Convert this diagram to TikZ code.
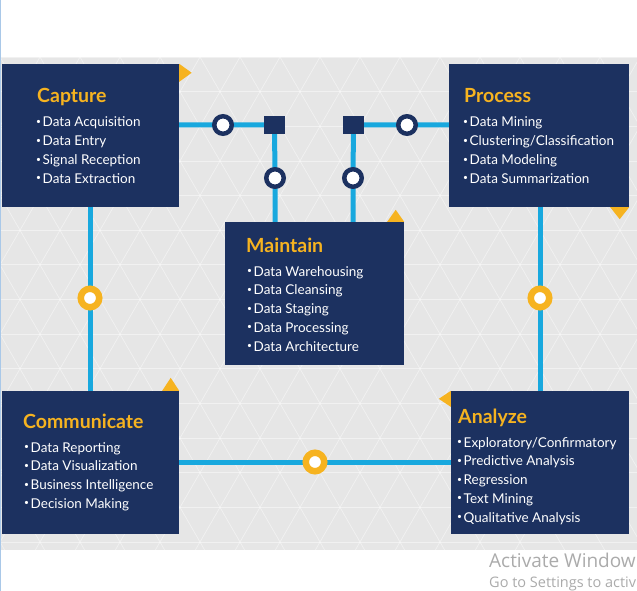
\documentclass[tikz,border=0pt]{standalone}
\usepackage{fontspec}
\setmainfont{Lato}
\newfontfamily\wmfont{Open Sans}
\definecolor{navy}{HTML}{1C3160}
\definecolor{gold}{HTML}{F6B320}
\definecolor{lineblue}{HTML}{18A8DE}
\definecolor{bggrey}{HTML}{E6E6E6}
\definecolor{wmgrey}{HTML}{ABABAB}
\definecolor{edgeblue}{HTML}{A9C8E8}
\pgfdeclarelayer{bg}
\pgfdeclarelayer{background}
\pgfsetlayers{bg,background,main}
\newcommand\bul{\makebox[6.5pt][l]{\raisebox{2.4pt}{\fontsize{8.5}{8.5}\selectfont •}}}
\tikzset{
  box/.style={rectangle, fill=navy, inner sep=0pt, minimum height=143pt},
  wire/.style={draw=lineblue, line width=5pt},
  navyring/.style={circle, draw=navy, line width=4.5pt, fill=white, minimum size=17.5pt, inner sep=0pt},
  goldring/.style={circle, draw=gold, line width=6.5pt, fill=white, minimum size=18.5pt, inner sep=0pt},
  joint/.style={rectangle, fill=navy, minimum width=21pt, minimum height=18pt, inner sep=0pt},
  title/.style={anchor=base west, inner sep=0pt, text=gold, font=\fontsize{19.5}{19.5}\selectfont\bfseries},
  item/.style={anchor=base west, inner sep=0pt, text=white, font=\fontsize{13.5}{13.5}\selectfont},
  pat/.style={draw=white, line width=0.7pt, opacity=0.45},
  tab/.style={fill=gold},
  wm/.style={anchor=base west, inner sep=0pt, text=wmgrey}
}
\begin{document}
\begin{tikzpicture}[x=1pt,y=-1pt]
\useasboundingbox (0,0) rectangle (637,591);
\begin{pgfonlayer}{bg}
  \fill[white] (0,0) rectangle (637,591);
  \fill[bggrey] (0,57) rectangle (637,550);
  \begin{scope}
    \clip (0,57) rectangle (637,550);
    \foreach \k in {-10,...,20} {
      \draw[pat] (\k*40,57) -- ++(60:700);
      \draw[pat] (\k*40,57) -- ++(120:700);
    }
    \foreach \k in {0,...,14} \draw[pat] (0,57+\k*34.64) -- (637,57+\k*34.64);
  \end{scope}
  \draw[edgeblue, line width=1pt] (0.5,0) -- (0.5,591);
\end{pgfonlayer}

% boxes
\node[box, minimum width=177pt] (cap) at (90.5,135.5) {};
\node[box, minimum width=180pt] (pro) at (539,135.5) {};
\node[box, minimum width=179pt] (mai) at (314.5,293.5) {};
\node[box, minimum width=177pt] (com) at (90.5,462.5) {};
\node[box, minimum width=178pt] (ana) at (540,462.5) {};

% tabs
\fill[tab] (cap.north east) -- ++(0,18) -- ++(12.5,-9) -- cycle;
\fill[tab] (pro.south east) -- ++(-19,0) -- ++(9.5,12) -- cycle;
\fill[tab] (mai.north east) -- ++(-17,0) -- ++(8.5,-12) -- cycle;
\fill[tab] (com.north east) -- ++(-17,0) -- ++(8.5,-13) -- cycle;
\fill[tab] (ana.north west) -- ++(0,16) -- ++(-12,-8) -- cycle;

% joints and rings
\node[joint] (s1) at (274.5,125) {};
\node[joint] (s2) at (353.5,125) {};
\node[navyring] (c1) at (223,125) {};
\node[navyring] (c2) at (275,178) {};
\node[navyring] (c3) at (407,125) {};
\node[navyring] (c4) at (353,178) {};
\node[goldring] (y1) at (90,298) {};
\node[goldring] (y2) at (540,298) {};
\node[goldring] (y3) at (315,462) {};

% wires
\begin{pgfonlayer}{background}
  \draw[wire] (c1.center -| cap.east) -- (c1.center) -- (s1.center) -- (c2.center) -- (c2.center |- mai.north);
  \draw[wire] (c3.center -| pro.west) -- (c3.center) -- (s2.center) -- (c4.center) -- (c4.center |- mai.north);
  \draw[wire] (y1.center |- cap.south) -- (y1.center) -- (y1.center |- com.north);
  \draw[wire] (y2.center |- pro.south) -- (y2.center) -- (y2.center |- ana.north);
  \draw[wire] (y3.center -| com.east) -- (y3.center) -- (y3.center -| ana.west);
\end{pgfonlayer}

% texts
\node[title] (capt) at (37,103) {Capture};
\foreach \t [count=\i from 0] in {Data Acquisition, Data Entry, Signal Reception, Data Extraction}
  \node[item] (cap-\i) at (36,127+\i*18.7) {\bul\t};

\node[title] (prot) at (464,103) {Process};
\foreach \t [count=\i from 0] in {Data Mining, Clustering/Classification, Data Modeling, Data Summarization}
  \node[item] (pro-\i) at (463,127+\i*18.7) {\bul\t};

\node[title] (mait) at (246,252) {Maintain};
\foreach \t [count=\i from 0] in {Data Warehousing, Data Cleansing, Data Staging, Data Processing, Data Architecture}
  \node[item] (mai-\i) at (247,276+\i*18.75) {\bul\t};

\node[title] (comt) at (23,428) {Communicate};
\foreach \t [count=\i from 0] in {Data Reporting, Data Visualization, Business Intelligence, Decision Making}
  \node[item] (com-\i) at (24,452+\i*18.7) {\bul\t};

\node[title] (anat) at (458,423) {Analyze};
\foreach \t [count=\i from 0] in {Exploratory/Confirmatory, Predictive Analysis, Regression, Text Mining, Qualitative Analysis}
  \node[item] (ana-\i) at (457,447+\i*18.75) {\bul\t};

% watermark (as much as the picture shows)
\node[wm, font=\wmfont\fontsize{19}{19}\selectfont] (wm1) at (489,567) {Activate Window};
\node[wm, font=\wmfont\fontsize{14.5}{14.5}\selectfont] (wm2) at (489,587) {Go to Settings to activ};
\end{tikzpicture}
\end{document}
